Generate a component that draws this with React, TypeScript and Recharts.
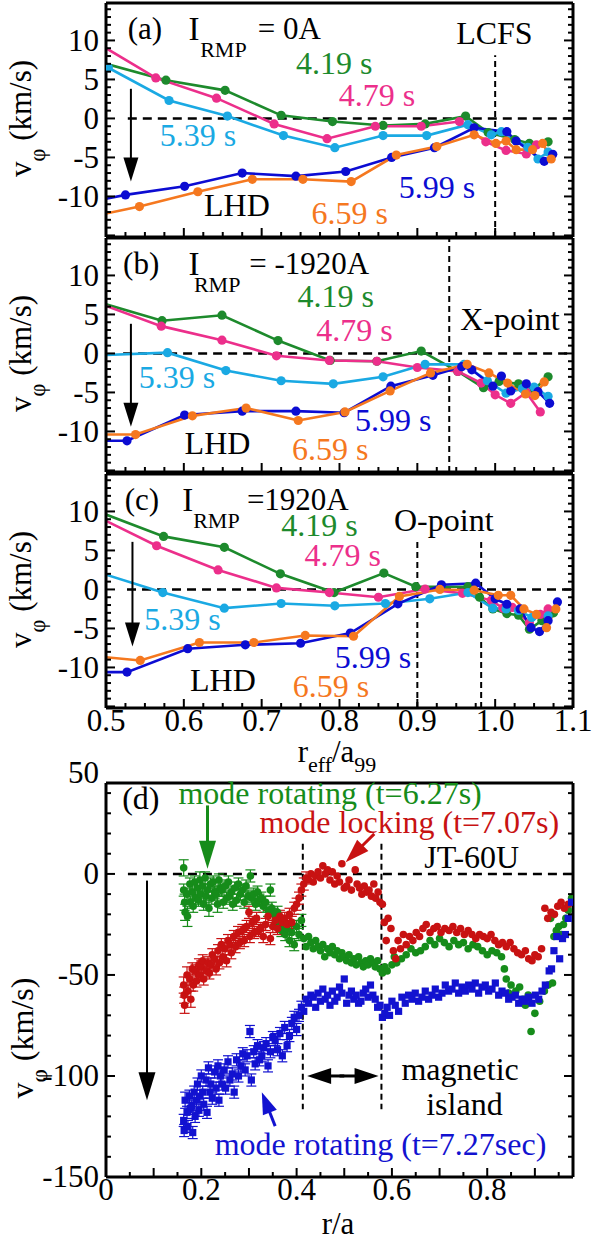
import React from "react";
import { ComposedChart, Line, Scatter, ErrorBar, XAxis, YAxis, ReferenceLine } from "recharts";

const FONT: React.CSSProperties = { fontFamily: "'Liberation Serif'" };
const W = 592;
const H = 1241;

// ---- LHD profiles: [r_eff/a99, v_phi (km/s)] ----
type Pt = [number, number];

const aGreen419: Pt[] = [[0.5, 7.0], [0.577, 4.9], [0.653, 3.6], [0.725, 0.4], [0.791, -0.4], [0.856, -0.9], [0.91, -0.7], [0.962, 0.3], [0.991, -1.8], [1.025, -2.7], [1.044, -3.2], [1.068, -3.0]];
const aPink479: Pt[] = [[0.5, 9.0], [0.564, 5.2], [0.642, 2.6], [0.716, -0.7], [0.784, -2.6], [0.846, -1.0], [0.905, -1.0], [0.954, -0.4], [0.988, -3.0], [1.014, -4.1], [1.04, -4.55], [1.053, -3.4]];
const aCyan539: Pt[] = [[0.503, 6.5], [0.581, 2.3], [0.656, 0.3], [0.728, -2.2], [0.794, -3.75], [0.856, -2.2], [0.912, -2.2], [0.965, -0.8], [0.995, -2.1], [1.008, -1.7], [1.042, -3.7], [1.055, -5.2], [1.068, -4.3]];
const aBlue599: Pt[] = [[0.5, -10.3], [0.525, -9.8], [0.601, -8.7], [0.675, -7.0], [0.744, -7.4], [0.808, -6.8], [0.867, -5.0], [0.922, -3.75], [0.973, -1.2], [1.015, -1.7], [1.027, -2.9], [1.063, -5.5], [1.074, -4.6]];
const aOrange659: Pt[] = [[0.5, -12.2], [0.543, -11.3], [0.618, -9.4], [0.688, -7.8], [0.753, -7.8], [0.815, -8.1], [0.873, -4.7], [0.925, -3.6], [0.973, -2.1], [1.001, -3.2], [1.014, -2.9], [1.027, -4.0], [1.048, -4.0], [1.061, -3.2], [1.072, -5.2]];

const bGreen419: Pt[] = [[0.5, 6.3], [0.572, 4.2], [0.649, 4.9], [0.721, 1.65], [0.788, -0.9], [0.848, -1.0], [0.905, 0.3], [0.952, -2.3], [0.985, -4.4], [1.005, -3.6], [1.03, -3.9], [1.05, -4.6], [1.068, -3.0]];
const bPink479: Pt[] = [[0.5, 6.1], [0.571, 3.5], [0.649, 1.7], [0.719, -0.3], [0.787, -0.9], [0.848, -1.0], [0.9, -1.8], [0.952, -2.3], [0.982, -3.8], [1.0, -5.3], [1.02, -6.4], [1.04, -5.0], [1.058, -7.5]];
const bCyan539: Pt[] = [[0.5, -0.2], [0.579, 0.1], [0.654, -2.2], [0.725, -3.5], [0.792, -3.9], [0.856, -3.0], [0.91, -1.4], [0.96, -1.4], [0.99, -3.5], [1.014, -5.1], [1.035, -4.5], [1.05, -4.3], [1.068, -5.5]];
const bBlue599: Pt[] = [[0.5, -11.2], [0.527, -11.2], [0.601, -7.9], [0.675, -7.4], [0.744, -7.4], [0.806, -7.6], [0.866, -4.2], [0.92, -2.8], [0.957, -1.7], [0.97, -2.1], [0.997, -4.2], [1.008, -2.9], [1.02, -4.8], [1.04, -3.9], [1.055, -4.9], [1.07, -6.4]];
const bOrange659: Pt[] = [[0.5, -10.4], [0.538, -10.4], [0.611, -8.0], [0.68, -7.0], [0.747, -8.6], [0.807, -7.5], [0.865, -4.8], [0.917, -2.5], [0.964, -1.4], [0.992, -2.5], [1.016, -3.8], [1.039, -5.2], [1.051, -5.4], [1.063, -3.65]];

const cGreen419: Pt[] = [[0.5, 9.6], [0.574, 6.8], [0.652, 5.4], [0.724, 2.0], [0.793, -0.4], [0.857, 2.1], [0.898, 0.35], [0.965, 0.35], [0.98, -1.0], [0.997, -2.5], [1.015, -3.1], [1.03, -3.3], [1.044, -5.1], [1.06, -4.0], [1.075, -3.0]];
const cPink479: Pt[] = [[0.5, 8.8], [0.565, 5.6], [0.644, 2.5], [0.719, 0.2], [0.787, -0.4], [0.85, -1.0], [0.91, 0.05], [0.958, -0.5], [0.995, -1.4], [1.01, -2.4], [1.022, -2.3], [1.044, -4.3], [1.058, -3.2], [1.068, -2.5]];
const cCyan539: Pt[] = [[0.5, 1.9], [0.573, -0.4], [0.652, -2.4], [0.725, -1.8], [0.794, -2.1], [0.859, -1.8], [0.916, -1.2], [0.965, -0.4], [0.997, -2.4], [1.014, -2.5], [1.03, -2.7], [1.047, -3.6], [1.068, -3.4]];
const cBlue599: Pt[] = [[0.5, -10.6], [0.527, -10.6], [0.605, -7.6], [0.679, -7.1], [0.75, -6.9], [0.814, -5.6], [0.875, -1.85], [0.931, 0.6], [0.975, 0.8], [1.0, -1.2], [1.015, -1.9], [1.032, -2.5], [1.046, -4.9], [1.057, -5.4], [1.068, -4.0], [1.08, -1.6]];
const cOrange659: Pt[] = [[0.5, -8.7], [0.544, -9.1], [0.62, -6.8], [0.69, -6.8], [0.756, -5.9], [0.818, -6.0], [0.877, -0.9], [0.929, 0], [0.973, -0.1], [1.004, -0.75], [1.02, -0.75], [1.037, -2.5], [1.053, -3.2], [1.066, -4.9], [1.078, -2.5]];

// ---- JT-60U profiles: [r/a, v_phi (km/s), error] ----
type EPt = [number, number, number];

const dGreen627: EPt[] = [
  [0.163, 3, 4], [0.163, -8, 3], [0.165, -14, 4], [0.166, -19, 4], [0.17, -10, 3], [0.171, -21, 5],
  [0.176, -5, 3], [0.177, -14, 3], [0.181, -9, 3], [0.183, -16, 3], [0.186, -4, 3], [0.188, -12, 3],
  [0.192, -7, 3], [0.194, -13, 3], [0.197, -3, 4], [0.199, -10, 3], [0.203, -6, 3], [0.205, -15, 3],
  [0.208, -2, 3], [0.21, -11, 3], [0.213, -8, 3], [0.216, -17, 4], [0.219, -5, 3], [0.222, -12, 3],
  [0.225, -4, 3], [0.228, -9, 3], [0.231, -10, 3], [0.234, -15, 4], [0.237, -3, 3], [0.24, -7, 3],
  [0.243, -8, 3], [0.246, -14, 3], [0.25, -6, 3], [0.253, -12, 3], [0.257, -4, 3], [0.26, -11, 3],
  [0.263, -9, 3], [0.266, -15, 3], [0.27, -7, 3], [0.274, -13, 3], [0.278, -5, 3], [0.282, -10, 3],
  [0.286, -8, 3], [0.29, -14, 3], [0.294, -6, 3], [0.298, -11, 3], [0.303, -1, 3], [0.306, -12, 3],
  [0.31, -10, 3], [0.314, -15, 3], [0.318, -9, 3], [0.322, -13, 3], [0.326, -12, 3], [0.33, -16, 3],
  [0.335, -14, 3], [0.34, -18, 3], [0.345, -8, 3], [0.348, -17, 3], [0.352, -20, 3], [0.356, -22, 3],
  [0.36, -19, 3], [0.364, -24, 3], [0.368, -28, 3], [0.372, -25, 3], [0.376, -30, 3], [0.38, -27, 3],
  [0.385, -33, 3], [0.39, -29, 3], [0.395, -35, 3], [0.4, -26, 3], [0.405, -30, 3], [0.41, -23, 3],
  [0.415, -32, 0], [0.42, -36, 0], [0.425, -31, 0], [0.43, -34, 0], [0.435, -37, 0], [0.44, -33, 0],
  [0.445, -36, 0], [0.45, -38, 0], [0.455, -35, 0], [0.459, -41, 0], [0.465, -37, 0], [0.47, -39, 0],
  [0.475, -36, 0], [0.48, -40, 0], [0.485, -38, 0], [0.49, -42, 0], [0.495, -39, 0], [0.5, -41, 0],
  [0.505, -43, 0], [0.51, -40, 0], [0.515, -44, 0], [0.52, -42, 0], [0.525, -45, 0], [0.53, -41, 0],
  [0.535, -44, 0], [0.54, -46, 0], [0.545, -43, 0], [0.55, -45, 0], [0.555, -42, 0], [0.56, -44, 0],
  [0.565, -46, 0], [0.57, -43, 0], [0.575, -47, 0], [0.58, -49, 0], [0.585, -46, 0], [0.59, -48, 0],
  [0.6, -45, 0], [0.605, -41, 0], [0.61, -44, 0], [0.62, -42, 0], [0.63, -40, 0], [0.64, -37, 0],
  [0.65, -39, 0], [0.66, -38, 0], [0.67, -36, 0], [0.68, -33, 0], [0.69, -35, 0], [0.7, -32, 0],
  [0.71, -34, 0], [0.72, -36, 0], [0.73, -33, 0], [0.74, -35, 0], [0.75, -34, 0], [0.76, -37, 0],
  [0.77, -35, 0], [0.78, -36, 0], [0.79, -38, 0], [0.8, -40, 0], [0.81, -38, 0], [0.82, -39, 0],
  [0.83, -41, 0], [0.836, -47, 0], [0.84, -52, 0], [0.845, -59, 0], [0.85, -55, 0], [0.86, -58, 0],
  [0.868, -56, 0], [0.875, -62, 0], [0.88, -65, 0], [0.886, -60, 0], [0.892, -78, 0], [0.9, -69, 0],
  [0.91, -63, 0], [0.92, -58, 0], [0.928, -55, 0], [0.933, -22, 0], [0.937, -54, 0], [0.94, -31, 0],
  [0.945, -28, 0], [0.95, -26, 0], [0.955, -30, 0], [0.96, -25, 0], [0.965, -22, 0], [0.97, -18, 0],
  [0.977, -12, 0],
];

const dRed707: EPt[] = [
  [0.163, -55, 4], [0.164, -60, 4], [0.165, -65, 4], [0.17, -50, 4], [0.172, -58, 3], [0.176, -52, 3],
  [0.178, -62, 4], [0.181, -47, 3], [0.183, -55, 3], [0.188, -48, 3], [0.19, -53, 3], [0.195, -45, 3],
  [0.197, -50, 3], [0.2, -46, 3], [0.203, -43, 3], [0.205, -52, 3], [0.21, -48, 3], [0.214, -44, 3],
  [0.217, -49, 3], [0.22, -45, 3], [0.223, -40, 3], [0.228, -42, 3], [0.231, -47, 3], [0.235, -38, 3],
  [0.238, -44, 3], [0.242, -35, 3], [0.245, -41, 3], [0.25, -37, 3], [0.253, -43, 3], [0.256, -33, 3],
  [0.26, -35, 3], [0.263, -39, 3], [0.268, -31, 3], [0.272, -36, 3], [0.277, -29, 3], [0.281, -34, 3],
  [0.286, -28, 3], [0.29, -33, 3], [0.295, -26, 3], [0.3, -19, 3], [0.302, -31, 3], [0.307, -24, 3],
  [0.311, -29, 3], [0.316, -22, 3], [0.32, -28, 3], [0.325, -27, 3], [0.33, -31, 3], [0.335, -25, 3],
  [0.34, -21, 3], [0.345, -32, 3], [0.35, -26, 3], [0.355, -23, 3], [0.36, -27, 3], [0.365, -21, 3],
  [0.37, -24, 3], [0.375, -22, 3], [0.38, -25, 3], [0.385, -20, 3], [0.39, -24, 3], [0.395, -17, 3],
  [0.4, -15, 3], [0.405, -12, 3], [0.41, -8, 3], [0.415, -5, 3], [0.42, -2, 3], [0.425, -3, 0],
  [0.43, 0, 0], [0.435, -4, 0], [0.44, -1, 0], [0.445, 1, 0], [0.45, -2, 0], [0.455, 4, 0],
  [0.46, 0, 0], [0.465, 2, 0], [0.47, -3, 0], [0.475, 1, 0], [0.48, -5, 0], [0.485, -1, 0],
  [0.49, -4, 0], [0.495, 5, 0], [0.5, -7, 0], [0.505, -6, 0], [0.51, -3, 0], [0.515, -8, 0],
  [0.523, 2, 0], [0.527, -5, 0], [0.532, -7, 0], [0.537, -10, 0], [0.542, -6, 0], [0.547, -9, 0],
  [0.552, -8, 0], [0.557, -11, 0], [0.562, -5, 0], [0.566, -12, 0], [0.571, -9, 0], [0.575, -14, 0],
  [0.58, -15, 0], [0.584, -24, 0], [0.588, -33, 0], [0.592, -22, 0], [0.598, -27, 0], [0.603, -38, 0],
  [0.608, -42, 0], [0.613, -33, 0], [0.618, -37, 0], [0.624, -30, 0], [0.63, -35, 0], [0.637, -31, 0],
  [0.644, -33, 0], [0.651, -29, 0], [0.658, -31, 0], [0.665, -27, 0], [0.672, -25, 0], [0.68, -29, 0],
  [0.688, -27, 0], [0.695, -26, 0], [0.703, -29, 0], [0.711, -27, 0], [0.72, -28, 0], [0.728, -26, 0],
  [0.736, -29, 0], [0.744, -27, 0], [0.752, -30, 0], [0.76, -28, 0], [0.768, -30, 0], [0.776, -32, 0],
  [0.784, -30, 0], [0.792, -31, 0], [0.8, -32, 0], [0.808, -30, 0], [0.816, -33, 0], [0.824, -35, 0],
  [0.832, -34, 0], [0.84, -36, 0], [0.848, -34, 0], [0.856, -37, 0], [0.864, -39, 0], [0.872, -40, 0],
  [0.88, -38, 0], [0.887, -42, 0], [0.894, -43, 0], [0.9, -40, 0], [0.907, -41, 0], [0.914, -37, 0],
  [0.921, -17, 0], [0.927, -22, 0], [0.934, -19, 0], [0.941, -20, 0], [0.948, -16, 0], [0.955, -14, 0],
  [0.962, -17, 0], [0.97, -15, 0],
];

const dBlue727: EPt[] = [
  [0.163, -122, 3], [0.164, -127, 3], [0.166, -112, 4], [0.17, -118, 3], [0.172, -125, 3], [0.175, -110, 3],
  [0.177, -116, 3], [0.18, -115, 3], [0.182, -128, 3], [0.185, -108, 3], [0.187, -120, 3], [0.19, -112, 3],
  [0.192, -104, 3], [0.195, -117, 3], [0.197, -110, 3], [0.2, -100, 3], [0.203, -108, 3], [0.205, -114, 3],
  [0.21, -102, 3], [0.212, -118, 3], [0.215, -96, 3], [0.218, -108, 3], [0.22, -104, 3], [0.223, -111, 3],
  [0.228, -98, 3], [0.231, -106, 3], [0.235, -95, 3], [0.237, -112, 3], [0.24, -100, 3], [0.243, -104, 3],
  [0.248, -97, 3], [0.251, -106, 3], [0.256, -93, 3], [0.26, -102, 3], [0.265, -99, 3], [0.269, -108, 3],
  [0.274, -92, 3], [0.278, -100, 3], [0.283, -95, 3], [0.287, -89, 3], [0.292, -97, 3], [0.296, -90, 3],
  [0.302, -78, 3], [0.305, -102, 3], [0.31, -88, 3], [0.313, -94, 3], [0.318, -85, 3], [0.322, -92, 3],
  [0.327, -90, 3], [0.331, -86, 3], [0.336, -84, 3], [0.34, -95, 3], [0.345, -88, 3], [0.35, -81, 3],
  [0.355, -82, 3], [0.36, -87, 3], [0.365, -79, 3], [0.37, -90, 3], [0.375, -76, 3], [0.38, -85, 3],
  [0.385, -80, 3], [0.39, -74, 3], [0.395, -71, 3], [0.4, -77, 3], [0.405, -70, 3], [0.41, -66, 3],
  [0.415, -68, 0], [0.42, -62, 0], [0.425, -64, 0], [0.43, -60, 0], [0.435, -61, 0], [0.44, -66, 0],
  [0.445, -59, 0], [0.45, -63, 0], [0.455, -57, 0], [0.46, -62, 0], [0.465, -60, 0], [0.47, -65, 0],
  [0.475, -58, 0], [0.48, -63, 0], [0.485, -61, 0], [0.49, -56, 0], [0.495, -59, 0], [0.5, -52, 0],
  [0.505, -64, 0], [0.51, -60, 0], [0.515, -58, 0], [0.52, -62, 0], [0.525, -60, 0], [0.53, -64, 0],
  [0.535, -63, 0], [0.54, -59, 0], [0.545, -57, 0], [0.55, -61, 0], [0.555, -55, 0], [0.56, -60, 0],
  [0.565, -62, 0], [0.57, -66, 0], [0.575, -65, 0], [0.58, -71, 0], [0.585, -69, 0], [0.59, -66, 0],
  [0.595, -70, 0], [0.6, -63, 0], [0.607, -65, 0], [0.614, -68, 0], [0.621, -61, 0], [0.628, -64, 0],
  [0.635, -60, 0], [0.642, -62, 0], [0.649, -59, 0], [0.656, -63, 0], [0.663, -61, 0], [0.67, -58, 0],
  [0.677, -62, 0], [0.684, -60, 0], [0.691, -57, 0], [0.698, -61, 0], [0.705, -59, 0], [0.712, -55, 0],
  [0.719, -58, 0], [0.726, -57, 0], [0.733, -54, 0], [0.74, -59, 0], [0.747, -56, 0], [0.754, -58, 0],
  [0.761, -55, 0], [0.768, -57, 0], [0.775, -54, 0], [0.782, -59, 0], [0.789, -56, 0], [0.796, -55, 0],
  [0.803, -58, 0], [0.81, -57, 0], [0.817, -54, 0], [0.824, -60, 0], [0.831, -58, 0], [0.838, -59, 0],
  [0.845, -62, 0], [0.852, -61, 0], [0.859, -60, 0], [0.866, -64, 0], [0.873, -62, 0], [0.88, -63, 0],
  [0.887, -61, 0], [0.894, -64, 0], [0.901, -60, 0], [0.908, -62, 0], [0.915, -58, 0], [0.922, -55, 0],
  [0.93, -48, 0], [0.935, -47, 0], [0.94, -38, 0], [0.946, -31, 0], [0.952, -42, 0], [0.958, -32, 0],
  [0.964, -30, 0], [0.97, -22, 0], [0.977, -14, 0],
];

// ---- axes ----
const AC_X: [number, number] = [0.5, 1.1];
const AC_Y: [number, number] = [-15.2, 14.8];
const AC_X_LABELS = [0.5, 0.6, 0.7, 0.8, 0.9, 1.0, 1.1];
const AC_Y_LABELS = [-10, -5, 0, 5, 10];
const D_X: [number, number] = [0, 0.98];
const D_Y: [number, number] = [-150, 45];
const D_X_LABELS = [0, 0.2, 0.4, 0.6, 0.8];
const D_Y_LABELS = [-150, -100, -50, 0];

const steps = (from: number, to: number, step: number) => {
  const out: number[] = [];
  for (let v = from; v <= to + 1e-9; v += step) out.push(Math.round(v * 1000) / 1000);
  return out;
};
const AC_X_TICKS = steps(0.5, 1.1, 0.025);
const AC_Y_TICKS = steps(-15, 14, 1);
const D_X_TICKS = steps(0, 0.95, 0.05);
const D_Y_TICKS = steps(-150, 40, 10);

// ---- page geometry (all four frames share left/right edges) ----
const LEFT = 106;
const RIGHT = 573;
const AC_H = 234;
const TOP_A = 3;
const TOP_B = 238;
const TOP_C = 474;
const D_TOP = 783;
const D_BOTTOM = 1177;

const acX = (x: number) => LEFT + ((x - AC_X[0]) / (AC_X[1] - AC_X[0])) * (RIGHT - LEFT);
const acY = (top: number, v: number) => top + ((AC_Y[1] - v) / (AC_Y[1] - AC_Y[0])) * AC_H;
const dX = (x: number) => LEFT + ((x - D_X[0]) / (D_X[1] - D_X[0])) * (RIGHT - LEFT);
const dY = (v: number) => D_TOP + ((D_Y[1] - v) / (D_Y[1] - D_Y[0])) * (D_BOTTOM - D_TOP);

const C = {
  green: "#1d8a2c", pink: "#ec2f8b", cyan: "#1aa9e3", blue: "#0c0cd2", orange: "#f5781f",
  dGreen: "#168c1a", dRed: "#c81212", dBlue: "#1212d0",
};

const frame = { stroke: "#000", strokeWidth: 3 };
const near = (list: number[], v: number) => list.some((m) => Math.abs(m - v) < 1e-6);

type Side = "bottom" | "top" | "left" | "right";
function makeTick(side: Side, isMajor: (v: number) => boolean, label?: (v: number) => string | null, size = 31) {
  return (p: any) => {
    const v = p.payload.value as number;
    const len = isMajor(v) ? 9 : 5;
    const { x, y } = p;
    const seg =
      side === "bottom" ? { x1: x, x2: x, y1: y, y2: y - len } :
      side === "top" ? { x1: x, x2: x, y1: y, y2: y + len } :
      side === "left" ? { x1: x, x2: x + len, y1: y, y2: y } :
      { x1: x, x2: x - len, y1: y, y2: y };
    const text = label ? label(v) : null;
    return (
      <g>
        <line {...seg} stroke="#000" strokeWidth={2} />
        {text !== null && side === "bottom" && (
          <text x={x} y={y + 12 + size * 0.35} textAnchor="middle" fontSize={size} style={FONT} fill="#000">{text}</text>
        )}
        {text !== null && side === "left" && (
          <text x={x - 7} y={y + size * 0.33} textAnchor="end" fontSize={size} style={FONT} fill="#000">{text}</text>
        )}
      </g>
    );
  };
}

const profileDot = (color: string) => (p: any) => {
  if (p.payload.x <= 0.5) return <g key={`e-${p.index}`} />;
  return <circle key={`d-${p.index}`} cx={p.cx} cy={p.cy} r={4.6} fill={color} stroke="none" />;
};

interface Segment { x1: number; y1: number; x2: number; y2: number; dash: string; width: number }
interface PanelProps {
  top: number;
  series: { pts: Pt[]; color: string }[];
  segments: Segment[];
  xLabels: boolean;
}

// axes are 1px thick so they render; margins are trimmed by that pixel
function ProfilePanel({ top, series, segments, xLabels }: PanelProps) {
  const xMajor = (v: number) => Math.abs(v * 10 - Math.round(v * 10)) < 1e-6;
  const yMajor = (v: number) => v % 5 === 0;
  const xLabel = xLabels ? (v: number) => (near(AC_X_LABELS, v) ? v.toFixed(1) : null) : undefined;
  const yLabel = (v: number) => (near(AC_Y_LABELS, v) ? String(v) : null);
  return (
    <div style={{ position: "absolute", left: 0, top: 0 }}>
      <ComposedChart width={W} height={H} margin={{ top: top - 1, bottom: H - top - AC_H - 1, left: LEFT - 1, right: W - RIGHT - 1 }}>
        <XAxis xAxisId="b" type="number" dataKey="x" domain={AC_X} allowDataOverflow ticks={AC_X_TICKS} interval={0}
          height={1} tickSize={0} tickMargin={0} tickLine={false} axisLine={frame} tick={makeTick("bottom", xMajor, xLabel)} />
        <XAxis xAxisId="t" orientation="top" type="number" domain={AC_X} allowDataOverflow ticks={AC_X_TICKS} interval={0}
          height={1} tickSize={0} tickMargin={0} tickLine={false} axisLine={frame} tick={makeTick("top", xMajor)} />
        <YAxis yAxisId="l" type="number" dataKey="v" domain={AC_Y} allowDataOverflow ticks={AC_Y_TICKS} interval={0}
          width={1} tickSize={0} tickMargin={0} tickLine={false} axisLine={frame} tick={makeTick("left", yMajor, yLabel)} />
        <YAxis yAxisId="r" orientation="right" type="number" domain={AC_Y} allowDataOverflow ticks={AC_Y_TICKS} interval={0}
          width={1} tickSize={0} tickMargin={0} tickLine={false} axisLine={frame} tick={makeTick("right", yMajor)} />
        {segments.map((s, i) => (
          <ReferenceLine key={i} xAxisId="b" yAxisId="l" segment={[{ x: s.x1, y: s.y1 }, { x: s.x2, y: s.y2 }]}
            stroke="#000" strokeWidth={s.width} strokeDasharray={s.dash} />
        ))}
        {series.map((s, i) => (
          <Line key={i} xAxisId="b" yAxisId="l" data={s.pts.map(([x, v]) => ({ x, v }))} dataKey="v" type="linear"
            stroke={s.color} strokeWidth={2.6} dot={profileDot(s.color)} activeDot={false} isAnimationActive={false} />
        ))}
      </ComposedChart>
    </div>
  );
}

function JtPanel() {
  const xMajor = (v: number) => Math.abs(v * 10 - Math.round(v * 10)) < 1e-6;
  const yMajor = (v: number) => v % 50 === 0;
  const xLabel = (v: number) => (near(D_X_LABELS, v) ? String(v) : null);
  const yLabel = (v: number) => (near(D_Y_LABELS, v) ? String(v) : null);
  const sets = [
    { pts: dGreen627, color: C.dGreen, square: false },
    { pts: dRed707, color: C.dRed, square: false },
    { pts: dBlue727, color: C.dBlue, square: true },
  ];
  return (
    <div style={{ position: "absolute", left: 0, top: 0 }}>
      <ComposedChart width={W} height={H} margin={{ top: D_TOP - 1, bottom: H - D_BOTTOM - 1, left: LEFT - 1, right: W - RIGHT - 1 }}>
        <XAxis xAxisId="b" type="number" dataKey="x" domain={D_X} allowDataOverflow ticks={D_X_TICKS} interval={0}
          height={1} tickSize={0} tickMargin={0} tickLine={false} axisLine={frame} tick={makeTick("bottom", xMajor, xLabel)} />
        <XAxis xAxisId="t" orientation="top" type="number" domain={D_X} allowDataOverflow ticks={D_X_TICKS} interval={0}
          height={1} tickSize={0} tickMargin={0} tickLine={false} axisLine={frame} tick={makeTick("top", xMajor)} />
        <YAxis yAxisId="l" type="number" dataKey="v" domain={D_Y} allowDataOverflow ticks={D_Y_TICKS} interval={0}
          width={1} tickSize={0} tickMargin={0} tickLine={false} axisLine={frame} tick={makeTick("left", yMajor, yLabel)} />
        <YAxis yAxisId="r" orientation="right" type="number" domain={D_Y} allowDataOverflow ticks={D_Y_TICKS} interval={0}
          width={1} tickSize={0} tickMargin={0} tickLine={false} axisLine={frame} tick={makeTick("right", yMajor)} />
        <ReferenceLine xAxisId="b" yAxisId="l" segment={[{ x: 0.046, y: 0 }, { x: 0.98, y: 0 }]} stroke="#000" strokeWidth={2.5} strokeDasharray="9 6" />
        <ReferenceLine xAxisId="b" yAxisId="l" segment={[{ x: 0.413, y: 14.9 }, { x: 0.413, y: -116.5 }]} stroke="#000" strokeWidth={2} strokeDasharray="6 4" />
        <ReferenceLine xAxisId="b" yAxisId="l" segment={[{ x: 0.578, y: 14.9 }, { x: 0.578, y: -116.5 }]} stroke="#000" strokeWidth={2} strokeDasharray="6 4" />
        {sets.map((s, i) => (
          <Scatter key={i} xAxisId="b" yAxisId="l" data={s.pts.map(([x, v, e]) => ({ x, v, e }))} isAnimationActive={false}
            shape={(p: any) => s.square
              ? <rect x={p.cx - 3.6} y={p.cy - 3.6} width={7.2} height={7.2} fill={s.color} />
              : <circle cx={p.cx} cy={p.cy} r={3.8} fill={s.color} />}>
            <ErrorBar dataKey="e" direction="y" width={5} stroke={s.color} strokeWidth={1.2} />
          </Scatter>
        ))}
      </ComposedChart>
    </div>
  );
}

function Txt({ x, y, children, size = 32, color = "#000", anchor = "start" }:
  { x: number; y: number; children: React.ReactNode; size?: number; color?: string; anchor?: "start" | "middle" | "end" }) {
  return <text x={x} y={y + size * 0.33} fontSize={size} fill={color} style={FONT} textAnchor={anchor}>{children}</text>;
}

function Arrow({ x1, y1, x2, y2, color = "#000", head = 24, spread = 15, sw = 2 }:
  { x1: number; y1: number; x2: number; y2: number; color?: string; head?: number; spread?: number; sw?: number }) {
  const len = Math.hypot(x2 - x1, y2 - y1);
  const ux = (x2 - x1) / len;
  const uy = (y2 - y1) / len;
  const bx = x2 - ux * head;
  const by = y2 - uy * head;
  const px = (-uy * spread) / 2;
  const py = (ux * spread) / 2;
  return (
    <g>
      <line x1={x1} y1={y1} x2={bx + ux} y2={by + uy} stroke={color} strokeWidth={sw} />
      <polygon points={`${x2},${y2} ${bx + px},${by + py} ${bx - px},${by - py}`} fill={color} />
    </g>
  );
}

function VLabel({ cx, cy, size }: { cx: number; cy: number; size: number }) {
  return (
    <text transform={`rotate(-90 ${cx} ${cy})`} x={cx} y={cy} fontSize={size} style={FONT} textAnchor="middle" fill="#000">
      v<tspan dy={size * 0.45} fontSize={size * 0.72}>φ</tspan><tspan dy={-size * 0.45}> (km/s)</tspan>
    </text>
  );
}

function RmpTitle({ top, tag, tagX, iX, rmpX, valX, value }:
  { top: number; tag: string; tagX: number; iX: number; rmpX: number; valX: number; value: string }) {
  const y = acY(top, 11.5);
  return (
    <g>
      <Txt x={acX(tagX)} y={y} size={31}>{tag}</Txt>
      <Txt x={acX(iX)} y={y} size={33}>I</Txt>
      <Txt x={acX(rmpX)} y={acY(top, 8.8)} size={22}>RMP</Txt>
      <Txt x={acX(valX)} y={y} size={31}>{value}</Txt>
    </g>
  );
}

function TimeLabels({ top, pos }: { top: number; pos: [number, number][] }) {
  const names = ["4.19 s", "4.79 s", "5.39 s", "5.99 s", "6.59 s"];
  const colors = [C.green, C.pink, C.cyan, C.blue, C.orange];
  return (
    <g>
      {pos.map(([x, v], i) => (
        <Txt key={i} x={acX(x)} y={acY(top, v)} size={32} color={colors[i]}>{names[i]}</Txt>
      ))}
    </g>
  );
}

function Overlay() {
  return (
    <svg width={W} height={H} style={{ position: "absolute", left: 0, top: 0 }}>
      {/* (a) */}
      <RmpTitle top={TOP_A} tag="(a)" tagX={0.528} iX={0.606} rmpX={0.621} valX={0.695} value="= 0A" />
      <Txt x={acX(0.999)} y={acY(TOP_A, 10.9)} size={32} anchor="middle">LCFS</Txt>
      <TimeLabels top={TOP_A} pos={[[0.744, 7.0], [0.799, 3.0], [0.569, -2.2], [0.876, -8.9], [0.764, -12.2]]} />
      <Txt x={acX(0.626)} y={acY(TOP_A, -11.2)} size={32}>LHD</Txt>
      <Arrow x1={acX(0.532)} y1={acY(TOP_A, 3.8)} x2={acX(0.532)} y2={acY(TOP_A, -8.1)} head={24} spread={15} />
      <VLabel cx={31} cy={acY(TOP_A, 0)} size={31} />

      {/* (b) */}
      <RmpTitle top={TOP_B} tag="(b)" tagX={0.522} iX={0.606} rmpX={0.613} valX={0.684} value="= -1920A" />
      <Txt x={acX(0.955)} y={acY(TOP_B, 4.3)} size={32}>X-point</Txt>
      <TimeLabels top={TOP_B} pos={[[0.746, 7.3], [0.77, 3.0], [0.542, -3.1], [0.82, -8.6], [0.739, -12.3]]} />
      <Txt x={acX(0.601)} y={acY(TOP_B, -11.6)} size={32}>LHD</Txt>
      <Arrow x1={acX(0.532)} y1={acY(TOP_B, 3.8)} x2={acX(0.532)} y2={acY(TOP_B, -9.4)} head={24} spread={15} />
      <VLabel cx={31} cy={acY(TOP_B, 0)} size={31} />

      {/* (c) */}
      <RmpTitle top={TOP_C} tag="(c)" tagX={0.524} iX={0.598} rmpX={0.612} valX={0.681} value="=1920A" />
      <Txt x={acX(0.87)} y={acY(TOP_C, 8.9)} size={32}>O-point</Txt>
      <TimeLabels top={TOP_C} pos={[[0.725, 8.2], [0.755, 4.3], [0.549, -3.8], [0.794, -8.7], [0.74, -12.4]]} />
      <Txt x={acX(0.608)} y={acY(TOP_C, -11.7)} size={32}>LHD</Txt>
      <Arrow x1={acX(0.534)} y1={acY(TOP_C, 6.1)} x2={acX(0.534)} y2={acY(TOP_C, -7.3)} head={24} spread={15} />
      <VLabel cx={31} cy={acY(TOP_C, 0)} size={31} />
      <text x={337} y={762} fontSize={31} style={FONT} textAnchor="middle" fill="#000">
        r<tspan dy={10} fontSize={22}>eff</tspan><tspan dy={-10}>/a</tspan><tspan dy={10} fontSize={22}>99</tspan>
      </text>

      {/* (d) */}
      <Txt x={LEFT - 7} y={dY(50)} size={31} anchor="end">50</Txt>
      <Txt x={dX(0.034)} y={dY(37.5)} size={32}>(d)</Txt>
      <Txt x={dX(0.152)} y={dY(40)} size={32} color={C.dGreen}>mode rotating (t=6.27s)</Txt>
      <Txt x={dX(0.322)} y={dY(25.5)} size={32} color={C.dRed}>mode locking (t=7.07s)</Txt>
      <Txt x={dX(0.668)} y={dY(8.3)} size={32}>JT-60U</Txt>
      <Txt x={dX(0.62)} y={dY(-96.7)} size={32}>magnetic</Txt>
      <Txt x={dX(0.672)} y={dY(-114)} size={32}>island</Txt>
      <Txt x={dX(0.228)} y={dY(-134)} size={32} color={C.dBlue}>mode rotating (t=7.27sec)</Txt>
      <Arrow x1={dX(0.213)} y1={dY(33.9)} x2={dX(0.213)} y2={dY(2.5)} color={C.dGreen} head={28} spread={17} sw={3} />
      <Arrow x1={dX(0.563)} y1={dY(19.8)} x2={dX(0.503)} y2={dY(5.8)} color={C.dRed} head={24} spread={16} sw={3} />
      <Arrow x1={dX(0.355)} y1={dY(-124.8)} x2={dX(0.327)} y2={dY(-108)} color={C.dBlue} head={22} spread={15} sw={3} />
      <Arrow x1={dX(0.086)} y1={dY(-3.3)} x2={dX(0.086)} y2={dY(-112)} head={28} spread={17} sw={2} />
      <Arrow x1={dX(0.5)} y1={dY(-100)} x2={dX(0.422)} y2={dY(-100)} head={24} spread={16} sw={3} />
      <Arrow x1={dX(0.49)} y1={dY(-100)} x2={dX(0.572)} y2={dY(-100)} head={24} spread={16} sw={3} />
      <VLabel cx={33} cy={1038} size={32} />
      <text x={338} y={1234} fontSize={31} style={FONT} textAnchor="middle" fill="#000">r/a</text>
    </svg>
  );
}

export default function App() {
  return (
    <div style={{ position: "absolute", left: 0, top: 0, width: W, height: H, background: "#fff", overflow: "hidden" }}>
      <ProfilePanel top={TOP_A} xLabels={false}
        series={[{ pts: aGreen419, color: C.green }, { pts: aPink479, color: C.pink }, { pts: aCyan539, color: C.cyan }, { pts: aBlue599, color: C.blue }, { pts: aOrange659, color: C.orange }]}
        segments={[
          { x1: 0.528, y1: 0, x2: 1.1, y2: 0, dash: "9 6", width: 2.5 },
          { x1: 1.0, y1: -15.2, x2: 1.0, y2: 8.1, dash: "6 4", width: 2 },
        ]} />
      <ProfilePanel top={TOP_B} xLabels={false}
        series={[{ pts: bGreen419, color: C.green }, { pts: bPink479, color: C.pink }, { pts: bCyan539, color: C.cyan }, { pts: bBlue599, color: C.blue }, { pts: bOrange659, color: C.orange }]}
        segments={[
          { x1: 0.522, y1: 0, x2: 1.1, y2: 0, dash: "9 6", width: 2.5 },
          { x1: 0.941, y1: -15.2, x2: 0.941, y2: 14.8, dash: "6 4", width: 2 },
        ]} />
      <ProfilePanel top={TOP_C} xLabels
        series={[{ pts: cGreen419, color: C.green }, { pts: cPink479, color: C.pink }, { pts: cCyan539, color: C.cyan }, { pts: cBlue599, color: C.blue }, { pts: cOrange659, color: C.orange }]}
        segments={[
          { x1: 0.527, y1: 0, x2: 1.1, y2: 0, dash: "9 6", width: 2.5 },
          { x1: 0.9, y1: -15.2, x2: 0.9, y2: 6.3, dash: "6 4", width: 2 },
          { x1: 0.982, y1: -15.2, x2: 0.982, y2: 6.3, dash: "6 4", width: 2 },
        ]} />
      <JtPanel />
      <Overlay />
    </div>
  );
}
